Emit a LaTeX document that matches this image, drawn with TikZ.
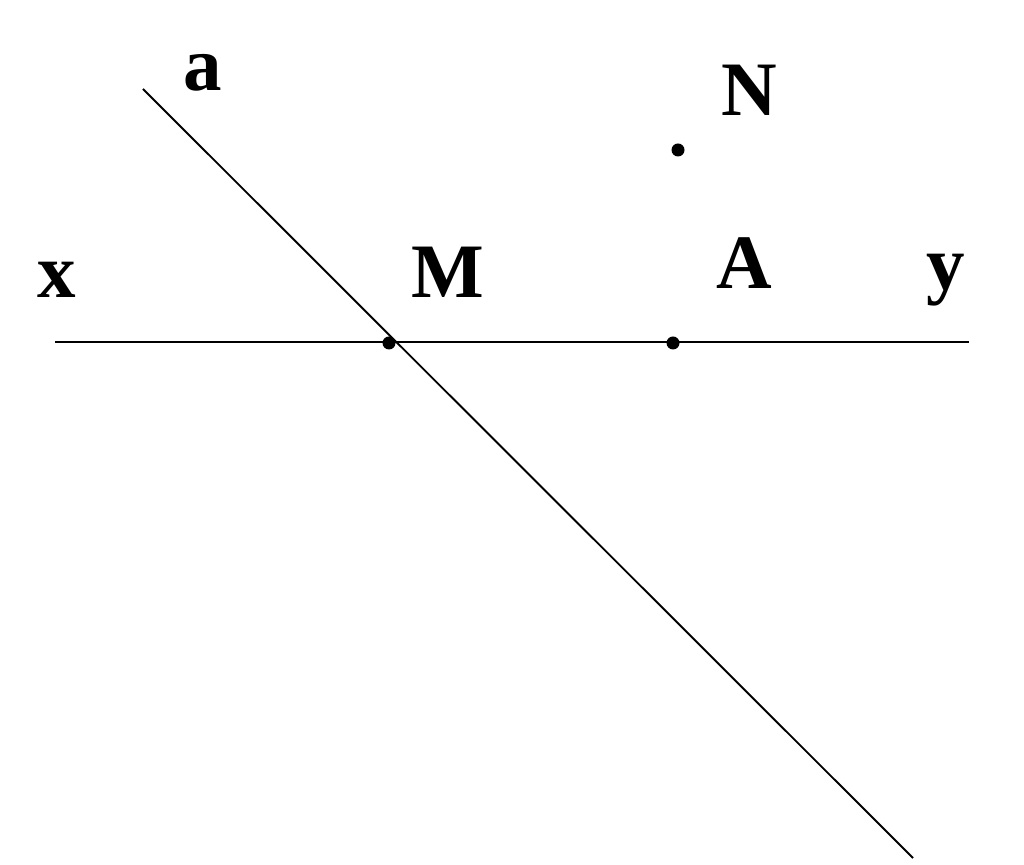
\documentclass[tikz,border=0pt]{standalone}
\usepackage{fontspec}
\setmainfont{Liberation Serif}
\begin{document}
\begin{tikzpicture}[x=0.5pt,y=-0.5pt,
  lbl/.style={anchor=base west,inner sep=0pt,font=\fontsize{38.5}{40}\selectfont\bfseries},
  ln/.style={line width=0.95pt,black},
  pt/.style={circle,fill=black,inner sep=0pt,minimum size=6.5pt}]
\useasboundingbox (0,0) rectangle (1024,865);
\coordinate (x1) at (55,342);
\coordinate (y1) at (969,342);
\coordinate (a1) at (143,89);
\coordinate (a2) at (913,858);
\draw[ln] (x1) -- (y1);
\draw[ln] (a1) -- (a2);
\node[pt] (M) at (389,343) {};
\node[pt] (A) at (673,343) {};
\node[pt] (N) at (678,150) {};
\node[lbl] (la) at (183,91) {a};
\node[lbl] (lN) at (721,116) {N};
\node[lbl] (lx) at (37,298) {x};
\node[lbl] (lM) at (411,298) {M};
\node[lbl] (lA) at (716,289) {A};
\node[lbl] (ly) at (926,290) {y};
\end{tikzpicture}
\end{document}
